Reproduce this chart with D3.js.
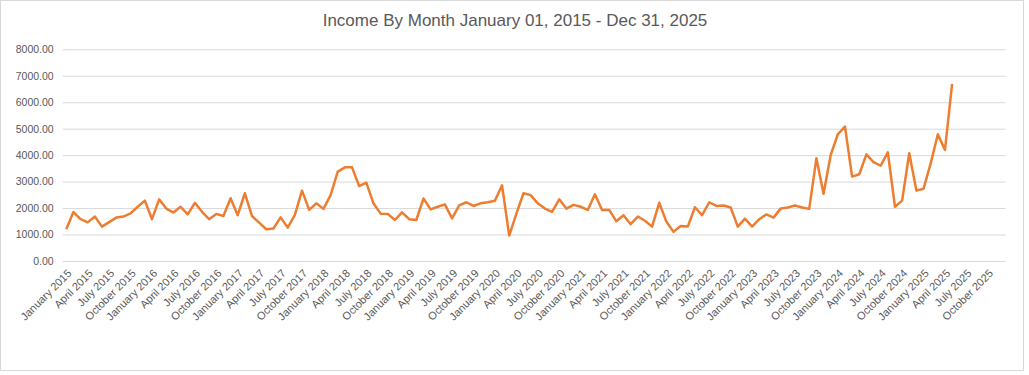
<!DOCTYPE html>
<html>
<head>
<meta charset="utf-8">
<script src="https://cdn.jsdelivr.net/npm/d3@7"></script>
<style>
  body { margin: 0; background: #fff; }
  svg { display: block; font-family: "Liberation Sans", Arial, sans-serif; }
</style>
</head>
<body>
<div id="chart"></div>
<script>
const title = "Income By Month January 01, 2015 - Dec 31, 2025";
const monthNames = ["January","February","March","April","May","June","July","August","September","October","November","December"];
const years = [2015,2016,2017,2018,2019,2020,2021,2022,2023,2024,2025];

// monthly income, Jan 2015 .. May 2025
const income = [
  1200,1850,1580,1460,1680,1300,1470,1640,1680,1800,2050,2280,
  1580,2330,1980,1830,2050,1760,2200,1860,1580,1780,1700,2370,
  1730,2560,1700,1450,1200,1230,1650,1260,1740,2660,1930,2180,
  1970,2490,3380,3540,3540,2830,2960,2180,1790,1780,1550,1840,
  1580,1550,2360,1950,2050,2140,1610,2100,2220,2080,2180,2220,
  2280,2860,960,1780,2560,2490,2180,1980,1860,2330,1980,2120,
  2050,1930,2520,1930,1930,1500,1730,1390,1680,1520,1300,2200,
  1490,1100,1320,1300,2030,1730,2220,2080,2100,2020,1300,1600,
  1300,1580,1760,1640,1980,2020,2100,2020,1970,3880,2540,4000,
  4790,5080,3190,3280,4030,3740,3600,4110,2050,2280,4070,2660,
  2730,3690,4790,4200,6690
];
const yTicks = [0,1000,2000,3000,4000,5000,6000,7000,8000];

const categories = [];
years.forEach(y => monthNames.forEach(m => categories.push(m + " " + y)));
const data = income.map((v, i) => ({ cat: categories[i], value: v }));

const width = 1029, height = 375;
const svg = d3.select("#chart").append("svg")
  .attr("width", width).attr("height", height);

svg.append("rect")
  .attr("x", 0.5).attr("y", 0.5)
  .attr("width", 1023).attr("height", 370)
  .attr("fill", "#fff").attr("stroke", "#d9d9d9");

const x = d3.scaleBand().domain(categories).range([62.7, 1005.7]);
const y = d3.scaleLinear().domain([0, 8000]).range([261, 49.3]);
const cx = c => x(c) + x.bandwidth() / 2;

svg.append("text")
  .attr("x", 515).attr("y", 26)
  .attr("text-anchor", "middle")
  .attr("font-size", 17)
  .attr("fill", "#595959")
  .text(title);

// grid + y labels
const yAxis = svg.append("g")
  .attr("transform", "translate(62.7,0)")
  .call(d3.axisLeft(y).tickValues(yTicks).tickSize(-943).tickFormat(d3.format(".2f")));
yAxis.select(".domain").remove();
yAxis.selectAll(".tick line").attr("stroke", "#d9d9d9");
yAxis.selectAll(".tick text")
  .attr("x", -9)
  .attr("fill", "#595959")
  .attr("font-size", 10.5)
  .attr("font-family", "Liberation Sans, Arial, sans-serif");

// x labels every 3 months
const xAxis = svg.append("g")
  .attr("transform", "translate(0,261)")
  .call(d3.axisBottom(x).tickValues(categories.filter((c, i) => i % 3 === 0)).tickSize(0));
xAxis.select(".domain").remove();
xAxis.selectAll(".tick text")
  .attr("fill", "#595959")
  .attr("font-size", 11)
  .attr("font-family", "Liberation Sans, Arial, sans-serif")
  .attr("text-anchor", "end")
  .attr("x", 0).attr("y", 0).attr("dy", 0)
  .attr("transform", "translate(6,13) rotate(-45)");

const line = d3.line()
  .x(d => cx(d.cat))
  .y(d => y(d.value));

svg.append("path")
  .datum(data)
  .attr("fill", "none")
  .attr("stroke", "#ED7D31")
  .attr("stroke-width", 2.5)
  .attr("stroke-linejoin", "round")
  .attr("d", line);
</script>
</body>
</html>
